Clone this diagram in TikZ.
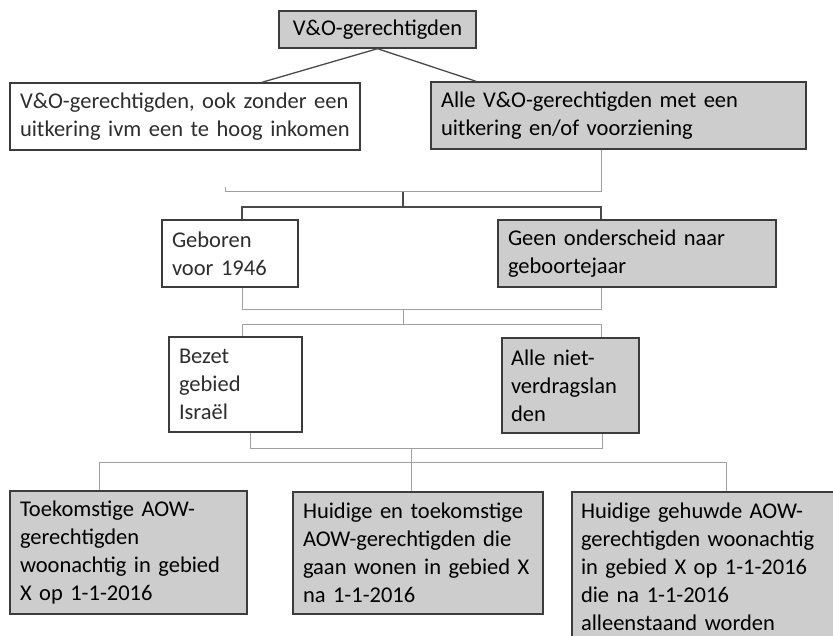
\documentclass[tikz,border=0pt]{standalone}
\usepackage{fontspec}
\setmainfont{Carlito}
\usetikzlibrary{calc}
\definecolor{boxc}{HTML}{3C3C3C}
\definecolor{shade}{HTML}{CDCDCD}
\definecolor{faintc}{HTML}{A0A0A0}
\definecolor{connc}{HTML}{4A4A4A}
\definecolor{txtc}{HTML}{2E2E2E}
\begin{document}
\begin{tikzpicture}[x=1pt,y=-1pt,
  box/.style={draw=boxc, line width=1.4pt, inner xsep=10pt, inner ysep=0pt,
    align=left, font=\fontsize{22.5}{28}\selectfont, text=txtc, fill=white},
  grey/.style={box, fill=shade, text=black},
  conn/.style={draw=connc, line width=1.3pt},
  faint/.style={draw=faintc, line width=1pt}]
\useasboundingbox (0,0) rectangle (833,636);

% nodes
\node[grey, minimum width=197pt, minimum height=37pt, align=center] (top) at (377.5,29.5) {V\&O-gerechtigden};
\node[box, minimum width=350pt, minimum height=67pt, text width=330pt] (l2a) at (185,116.5)
  {V\&O-gerechtigden, ook zonder een\\uitkering ivm een te hoog inkomen};
\node[grey, minimum width=375pt, minimum height=67pt, text width=355pt] (l2b) at (618.5,115.5)
  {Alle V\&O-gerechtigden met een\\uitkering en/of voorziening};
\node[box, minimum width=136pt, minimum height=67pt, text width=116pt] (geb) at (230,253.5)
  {Geboren\\voor 1946};
\node[grey, minimum width=278pt, minimum height=67pt, text width=258pt] (geen) at (637,253.5)
  {Geen onderscheid naar\\geboortejaar};
\node[box, minimum width=133pt, minimum height=95pt, text width=113pt] (bez) at (235.5,384.5)
  {Bezet\\gebied\\Israël};
\node[grey, minimum width=137pt, minimum height=95pt, text width=119pt, inner xsep=9pt] (alle) at (570.5,385.5)
  {Alle niet-\\verdragslan\\den};
\node[grey, minimum width=237pt, minimum height=123pt, text width=217pt] (toek) at (128.5,552.5)
  {Toekomstige AOW-\\gerechtigden\\woonachtig in gebied\\X op 1-1-2016};
\node[grey, minimum width=250pt, minimum height=122pt, text width=230pt] (hui1) at (418,553)
  {Huidige en toekomstige\\AOW-gerechtigden die\\gaan wonen in gebied X\\na 1-1-2016};
\node[grey, minimum width=264pt, minimum height=150pt, text width=246pt, inner xsep=9pt] (hui2) at (704,567)
  {Huidige gehuwde AOW-\\gerechtigden woonachtig\\in gebied X op 1-1-2016\\die na 1-1-2016\\alleenstaand worden};

% level 1 -> 2
\coordinate (a1) at ($(l2a.north)+(77,0)$);
\coordinate (b1) at ($(l2b.north)+(-142.5,0)$);
\draw[conn] (top.south) -- (a1);
\draw[conn] (top.south) -- (b1);

% level 2 -> 3
\coordinate (j1r) at (601,192);
\coordinate (j1l) at (225,192);
\coordinate (j1t) at (225,187);
\coordinate (j2a) at (403,192);
\coordinate (j2b) at (403,207);
\coordinate (j2l) at (242,207);
\coordinate (j2r) at (601,207);
\draw[faint] (l2b.south -| j1r) -- (j1r) -- (j1l) -- (j1t);
\draw[conn] (j2a) -- (j2b);
\draw[conn] (geb.north -| j2l) |- (j2r) -- (geen.north -| j2r);

% level 3 -> 4
\coordinate (k1r) at (601,310);
\coordinate (k1l) at (242,310);
\coordinate (k2a) at (403,310);
\coordinate (k2b) at (403,325);
\coordinate (k2l) at (242,325);
\coordinate (k2r) at (601,325);
\draw[faint] (geb.south -| k1l) -- (k1l) -- (k1r) -- (geen.south -| k1r);
\draw[faint] (k2a) -- (k2b);
\draw[faint] (bez.north -| k2l) |- (k2r) -- (alle.north -| k2r);

% level 4 -> 5
\coordinate (m1l) at (250,448);
\coordinate (m1r) at (602,448);
\coordinate (m2a) at (411,448);
\coordinate (m2l) at (99,462);
\coordinate (m2r) at (726,462);
\draw[faint] (bez.south -| m1l) -- (m1l) -- (m1r) -- (alle.south -| m1r);
\draw[faint] (m2a) -- (hui1.north -| m2a);
\draw[faint] (toek.north -| m2l) |- (m2r) -- (hui2.north -| m2r);
\end{tikzpicture}
\end{document}
